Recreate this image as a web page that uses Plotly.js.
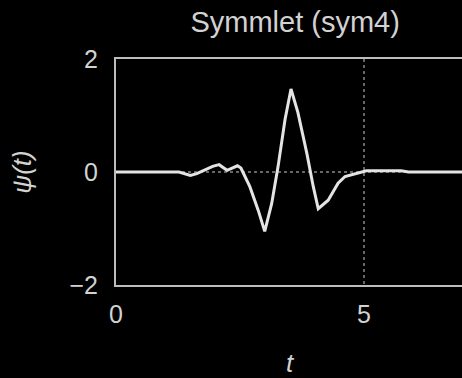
<!DOCTYPE html>
<html>
<head>
<meta charset="utf-8">
<script src="https://cdn.plot.ly/plotly-3.0.1.min.js"></script>
<style>
html,body{margin:0;padding:0;background:#000;overflow:hidden;width:462px;height:378px;}
#chart{width:470px;height:378px;}
</style>
</head>
<body>
<div id="chart"></div>
<script>
// Data
const tValues = [0, 1.27, 1.5, 1.63, 1.95, 2.08, 2.24, 2.45, 2.52, 2.70, 2.87, 3.0, 3.14, 3.27, 3.41, 3.53, 3.67, 3.85, 3.98, 4.08, 4.28, 4.48, 4.62, 4.9, 5.05, 5.75, 5.9, 7];
const psiValues = [0, 0, -0.06, -0.03, 0.1, 0.13, 0.03, 0.11, 0.07, -0.26, -0.68, -1.05, -0.56, 0.1, 0.93, 1.47, 1.05, 0.33, -0.26, -0.65, -0.5, -0.2, -0.08, -0.02, 0.02, 0.02, 0, 0];
const xTickVals = [0, 5];
const xTickText = ['0', '5'];
const yTickVals = [-2, 0, 2];
const yTickText = ['\u22122', '0', '2'];

const textColor = '#d2d2d2';
const axisColor = '#bdbdbd';
const font = 'Liberation Sans, Arial, sans-serif';

const trace = {
  x: tValues,
  y: psiValues,
  type: 'scatter',
  mode: 'lines',
  line: {color: '#e4e4e4', width: 3},
  hoverinfo: 'skip'
};

const layout = {
  width: 470,
  height: 378,
  paper_bgcolor: '#000',
  plot_bgcolor: '#000',
  margin: {l: 116, r: 7, t: 59, b: 93},
  showlegend: false,
  title: {
    text: 'Symmlet (sym4)',
    font: {family: font, size: 29, color: textColor},
    x: 0.628, xanchor: 'center',
    y: 0.942, yanchor: 'middle'
  },
  xaxis: {
    range: [0, 7],
    tickvals: xTickVals,
    ticktext: xTickText,
    ticks: '',
    ticklabelstandoff: 6,
    tickfont: {family: font, size: 25, color: textColor},
    showline: true, mirror: true, linecolor: axisColor, linewidth: 2,
    showgrid: true, gridcolor: '#666', griddash: 'dot', gridwidth: 1.5,
    zeroline: false,
    title: {text: '<i>t</i>', font: {family: font, size: 26, color: textColor}, standoff: 32}
  },
  yaxis: {
    range: [-2, 2],
    tickvals: yTickVals,
    ticktext: yTickText,
    ticks: '',
    ticklabelstandoff: 11,
    tickfont: {family: font, size: 25, color: textColor},
    showline: true, mirror: true, linecolor: axisColor, linewidth: 2,
    showgrid: true, gridcolor: '#666', griddash: 'dot', gridwidth: 1.5,
    zeroline: false,
    title: {text: '<i>\u03c8(t)</i>', font: {family: font, size: 26, color: textColor}, standoff: 30}
  }
};

Plotly.newPlot('chart', [trace], layout, {displayModeBar: false, staticPlot: true});
</script>
</body>
</html>
